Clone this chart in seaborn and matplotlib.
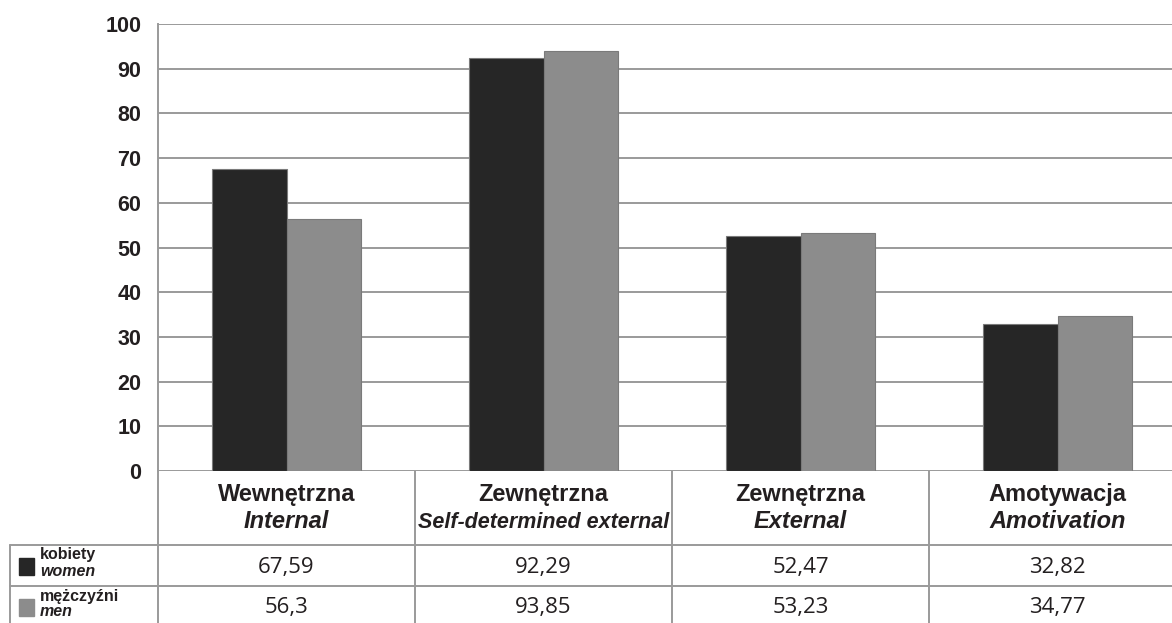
import pandas as pd
import numpy as np
import matplotlib
matplotlib.use('Agg')
import matplotlib.pyplot as plt
import matplotlib.transforms as mtransforms
import seaborn as sns

# -------------------------------
# Data
# -------------------------------
categories_pl = ['Wewnętrzna', 'Zewnętrzna', 'Zewnętrzna', 'Amotywacja']
categories_en = ['Internal', 'Self-determined external', 'External', 'Amotivation']
women = [67.59, 92.29, 52.47, 32.82]
men = [56.3, 93.85, 53.23, 34.77]
women_txt = ['67,59', '92,29', '52,47', '32,82']
men_txt = ['56,3', '93,85', '53,23', '34,77']
series_pl = ['kobiety', 'mężczyźni']
series_en = ['women', 'men']
colors = ['#262626', '#8c8c8c']
yticks = [0, 10, 20, 30, 40, 50, 60, 70, 80, 90, 100]

df = pd.DataFrame({
    'cat': list(range(len(women))) * 2,
    'value': women + men,
    'series': [series_pl[0]] * len(women) + [series_pl[1]] * len(men),
})

sns.set_style('white')
plt.rcParams['font.family'] = ['Liberation Sans', 'DejaVu Sans']

W, H = 1172, 623
fig = plt.figure(figsize=(W / 100, H / 100), dpi=100)

# main chart area (pixel layout); the last column runs past the right edge
left, colw, top, bottom = 158, 257, 24, 471
n = len(women)
ax = fig.add_axes([left / W, (H - bottom) / H, n * colw / W, (bottom - top) / H])

sns.barplot(data=df, x='cat', y='value', hue='series', palette=colors,
            width=0.576, gap=0, ax=ax, legend=False, native_scale=True,
            edgecolor='#7a7a7a', linewidth=0.8, zorder=3)

ax.set_xlim(-0.5, n - 0.5)
ax.set_ylim(0, 100)
ax.set_yticks(yticks)
ax.set_yticklabels([str(t) for t in yticks], fontsize=15.5, fontweight='bold', color='#231f20')
ax.tick_params(axis='y', length=0, pad=12)
ax.set_xticks([])
ax.set_xlabel('')
ax.set_ylabel('')
ax.yaxis.grid(True, color='#9a9a9a', linewidth=1.4, zorder=0)
ax.set_axisbelow(True)
for s in ['top', 'right', 'bottom']:
    ax.spines[s].set_visible(False)
ax.spines['left'].set_color('#9a9a9a')
ax.spines['left'].set_linewidth(1.4)

# -------------------------------
# Data table below the chart
# -------------------------------
tab = fig.add_axes([0, 0, 1, 1], zorder=-1)
tab.set_xlim(0, W)
tab.set_ylim(H, 0)
tab.axis('off')
tr = mtransforms.blended_transform_factory(ax.transData, tab.transData)
lc = '#9a9a9a'
lw = 1.4

# vertical column borders
for i in range(n):
    tab.plot([i - 0.5, i - 0.5], [bottom, H], transform=tr, color=lc, lw=lw, clip_on=False)
# row borders
for yy in [545, 586]:
    tab.plot([10, W], [yy, yy], color=lc, lw=lw)
tab.plot([10, 10], [545, H], color=lc, lw=lw)

for i in range(n):
    tab.text(i, 494, categories_pl[i], transform=tr, ha='center', va='center',
             fontsize=17, fontweight='bold', color='#231f20')
    fs = 15.5 if len(categories_en[i]) > 15 else 17
    tab.text(i, 522, categories_en[i], transform=tr, ha='center', va='center',
             fontsize=fs, fontweight='bold', fontstyle='italic', color='#231f20')
    tab.text(i, 567, women_txt[i], transform=tr, ha='center', va='center',
             fontsize=16, family=['Open Sans', 'DejaVu Sans'], color='#231f20')
    tab.text(i, 608, men_txt[i], transform=tr, ha='center', va='center',
             fontsize=16, family=['Open Sans', 'DejaVu Sans'], color='#231f20')

# legend keys inside the table
for j, ytop in enumerate([558, 599]):
    tab.add_patch(plt.Rectangle((19, ytop), 15, 17, color=colors[j]))
    tab.text(40, ytop - 3, series_pl[j], ha='left', va='center', fontsize=11.5,
             fontweight='bold', color='#231f20')
    tab.text(40, ytop + 13, series_en[j], ha='left', va='center', fontsize=11.5,
             fontweight='bold', fontstyle='italic', color='#231f20')

fig.savefig('out.png', dpi=100)
